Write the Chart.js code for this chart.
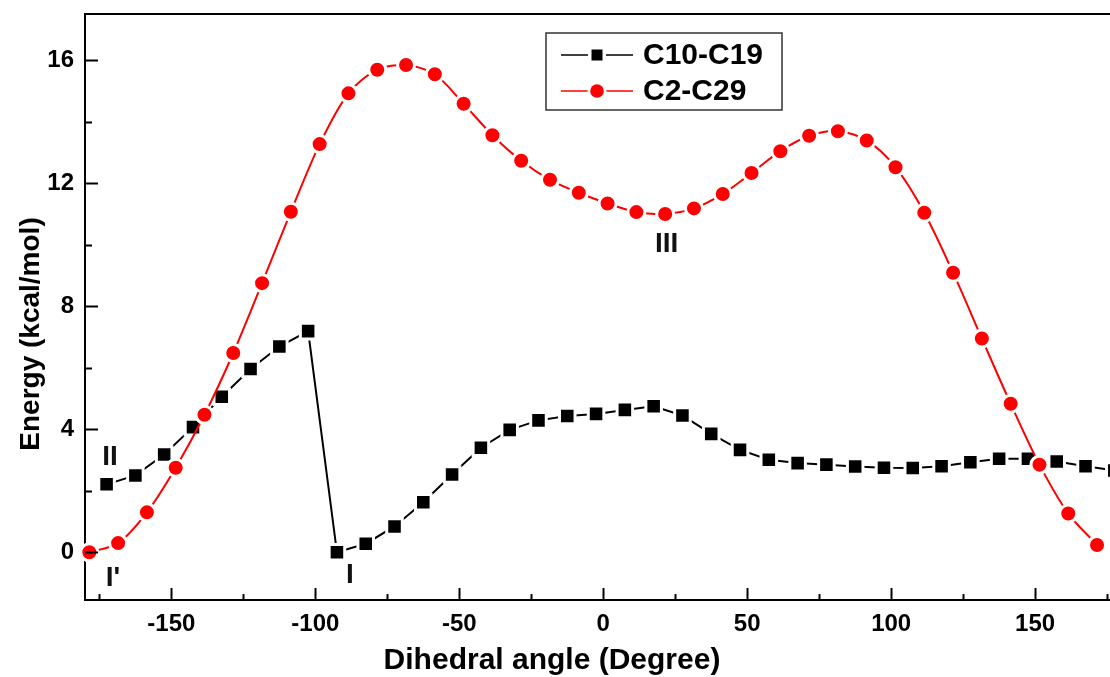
<!DOCTYPE html>
<html>
<head>
<meta charset="utf-8">
<script src="https://cdn.jsdelivr.net/npm/chart.js@4.4.1/dist/chart.umd.min.js"></script>
<style>
  html, body { margin: 0; padding: 0; background: #fff; overflow: hidden; }
  #wrap { width: 1110px; height: 677px; }
  #chart { display: block; }
</style>
</head>
<body>
<div id="wrap"><canvas id="chart" width="1110" height="677"></canvas></div>
<script>
const blackLabel = "C10-C19";
const redLabel = "C2-C29";

const blackAngles = [-172.5, -162.5, -152.5, -142.5, -132.5, -122.5, -112.5, -102.5, -92.5, -82.5,
  -72.5, -62.5, -52.5, -42.5, -32.5, -22.5, -12.5, -2.5, 7.5, 17.5,
  27.5, 37.5, 47.5, 57.5, 67.5, 77.5, 87.5, 97.5, 107.5, 117.5,
  127.5, 137.5, 147.5, 157.5, 167.5, 177.5];
const blackEnergy = [2.21, 2.5, 3.18, 4.07, 5.06, 5.96, 6.69, 7.19, 0.0, 0.28,
  0.84, 1.63, 2.53, 3.4, 3.98, 4.29, 4.43, 4.5, 4.63, 4.75,
  4.45, 3.85, 3.33, 3.01, 2.9, 2.85, 2.79, 2.75, 2.74, 2.8,
  2.93, 3.04, 3.04, 2.95, 2.8, 2.66];

const redAngles = [-178.5, -168.5, -158.5, -148.5, -138.5, -128.5, -118.5, -108.5, -98.5, -88.5,
  -78.5, -68.5, -58.5, -48.5, -38.5, -28.5, -18.5, -8.5, 1.5, 11.5,
  21.5, 31.5, 41.5, 51.5, 61.5, 71.5, 81.5, 91.5, 101.5, 111.5,
  121.5, 131.5, 141.5, 151.5, 161.5, 171.5];
const redEnergy = [0.0, 0.3, 1.3, 2.75, 4.47, 6.48, 8.75, 11.07, 13.27, 14.92,
  15.69, 15.84, 15.54, 14.58, 13.56, 12.73, 12.11, 11.69, 11.34, 11.06,
  11.0, 11.18, 11.65, 12.33, 13.04, 13.54, 13.69, 13.39, 12.52, 11.04,
  9.09, 6.95, 4.83, 2.85, 1.26, 0.24];

const xTicks = [-175, -150, -125, -100, -75, -50, -25, 0, 25, 50, 75, 100, 125, 150, 175];
const yTicks = [0, 2, 4, 6, 8, 10, 12, 14, 16];

const noteTexts = ["II", "I'", "I", "III"];
const noteX = [-171.3, -170.3, -88, 22];
const noteY = [3.08, -0.84, -0.75, 10.03];

const FONT = "'Liberation Sans', Arial, sans-serif";

function toPoints(xs, ys) {
  return xs.map((x, i) => ({ x: x, y: ys[i] }));
}

function noPadding(scale) {
  scale.paddingTop = 0;
  scale.paddingBottom = 0;
  scale.paddingLeft = 0;
  scale.paddingRight = 0;
}

// inward tick marks, top frame line, labels, legend box, axis titles
const decorations = {
  id: "decorations",
  afterDraw(chart) {
    const ctx = chart.ctx;
    const area = chart.chartArea;
    const xs = chart.scales.x;
    const ys = chart.scales.y;
    ctx.save();
    ctx.strokeStyle = "#000";
    ctx.lineWidth = 2;

    ctx.beginPath();
    ctx.moveTo(area.left - 1, area.top);
    ctx.lineTo(area.right, area.top);
    ctx.stroke();

    for (const v of xTicks) {
      const px = Math.round(xs.getPixelForValue(v)) + 0.5;
      const len = v % 50 === 0 ? 12 : 6;
      ctx.beginPath();
      ctx.moveTo(px, area.bottom);
      ctx.lineTo(px, area.bottom - len);
      ctx.stroke();
    }
    for (const v of yTicks) {
      const py = Math.round(ys.getPixelForValue(v)) + 0.5;
      const len = v % 4 === 0 ? 13 : 7;
      ctx.beginPath();
      ctx.moveTo(area.left, py);
      ctx.lineTo(area.left + len, py);
      ctx.stroke();
    }

    // point labels
    ctx.fillStyle = "#111";
    ctx.font = "bold 28px " + FONT;
    ctx.textAlign = "center";
    ctx.textBaseline = "middle";
    noteTexts.forEach((t, i) => {
      ctx.fillText(t, xs.getPixelForValue(noteX[i]), ys.getPixelForValue(noteY[i]));
    });

    // axis titles
    ctx.fillStyle = "#000";
    ctx.font = "bold 30px " + FONT;
    ctx.fillText("Dihedral angle (Degree)", 552, 661);
    ctx.save();
    ctx.translate(31, 334);
    ctx.rotate(-Math.PI / 2);
    ctx.font = "bold 28px " + FONT;
    ctx.fillText("Energy (kcal/mol)", 0, 0);
    ctx.restore();

    // legend
    ctx.strokeStyle = "#333";
    ctx.lineWidth = 1.5;
    ctx.strokeRect(546, 33, 236, 77);
    chart.data.datasets.forEach((ds, i) => {
      const y = 55 + i * 36;
      ctx.strokeStyle = ds.borderColor;
      ctx.lineWidth = 1.5;
      ctx.beginPath();
      ctx.moveTo(561, y);
      ctx.lineTo(633, y);
      ctx.stroke();
      if (ds.pointStyle === "rect") {
        ctx.fillStyle = "#fff";
        ctx.fillRect(588, y - 9, 18, 18);
        ctx.fillStyle = ds.pointBackgroundColor;
        ctx.fillRect(591.5, y - 5.5, 11, 11);
      } else {
        ctx.fillStyle = "#fff";
        ctx.beginPath();
        ctx.arc(597, y, 9.5, 0, Math.PI * 2);
        ctx.fill();
        ctx.fillStyle = ds.pointBackgroundColor;
        ctx.beginPath();
        ctx.arc(597, y, 6.8, 0, Math.PI * 2);
        ctx.fill();
      }
      ctx.fillStyle = "#000";
      ctx.font = "bold 30px " + FONT;
      ctx.textAlign = "left";
      ctx.fillText(ds.label, 643, y + 1);
    });
    ctx.restore();
  }
};

new Chart(document.getElementById("chart"), {
  type: "line",
  data: {
    datasets: [
      {
        label: blackLabel,
        data: toPoints(blackAngles, blackEnergy),
        borderColor: "#000",
        borderWidth: 2,
        pointStyle: "rect",
        pointRadius: 11,
        pointBorderWidth: 3,
        pointBorderColor: "#fff",
        pointBackgroundColor: "#000",
        tension: 0,
        clip: false,
        order: 1,
      },
      {
        label: redLabel,
        data: toPoints(redAngles, redEnergy),
        borderColor: "#ff0000",
        borderWidth: 2,
        pointStyle: "circle",
        pointRadius: 8.5,
        pointBorderWidth: 3,
        pointBorderColor: "#fff",
        pointBackgroundColor: "#ff0000",
        tension: 0.3,
        clip: false,
        order: 0,
      },
    ],
  },
  options: {
    responsive: false,
    animation: false,
    events: [],
    layout: { autoPadding: false, padding: { top: 14, right: 0, left: 0, bottom: 0 } },
    plugins: {
      legend: { display: false },
      tooltip: { enabled: false },
    },
    scales: {
      x: {
        type: "linear",
        min: -180,
        max: 176,
        afterBuildTicks: (scale) => { scale.ticks = xTicks.map((v) => ({ value: v })); },
        afterFit: (scale) => { scale.height = 77; noPadding(scale); },
        grid: { display: false, drawTicks: false },
        border: { display: true, color: "#000", width: 2 },
        ticks: {
          autoSkip: false,
          maxRotation: 0,
          padding: 10,
          color: "#000",
          font: { family: FONT, size: 24, weight: "bold" },
          callback: (v) => (v % 50 === 0 ? v : ""),
        },
      },
      y: {
        min: -1.55,
        max: 17.5,
        afterBuildTicks: (scale) => { scale.ticks = yTicks.map((v) => ({ value: v })); },
        afterFit: (scale) => { scale.width = 85; noPadding(scale); },
        grid: { display: false, drawTicks: false },
        border: { display: true, color: "#000", width: 2 },
        ticks: {
          padding: 11,
          color: "#000",
          font: { family: FONT, size: 24, weight: "bold" },
          callback: (v) => (v % 4 === 0 ? v : ""),
        },
      },
    },
  },
  plugins: [decorations],
});
</script>
</body>
</html>
